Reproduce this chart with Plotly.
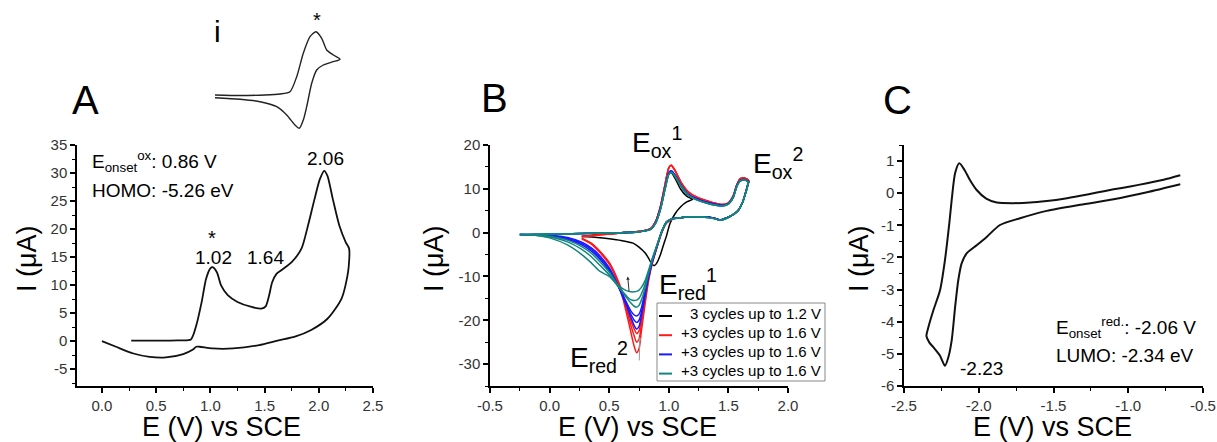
import plotly.graph_objects as go

W, H = 1217, 442
FONT = "Arial, 'Liberation Sans', sans-serif"

# ---------------- Panel A: oxidation CV ----------------
A_E = [0.27, 0.5, 0.7, 0.82, 0.87, 0.92, 0.96, 1.0, 1.02, 1.06, 1.10, 1.16, 1.25, 1.38, 1.47,
       1.51, 1.54, 1.57, 1.61, 1.65, 1.75, 1.84, 1.90, 1.96, 2.01, 2.05, 2.08, 2.13, 2.19, 2.25,
       2.28, 2.27, 2.21, 2.08, 1.93, 1.78, 1.62, 1.45, 1.21, 1.02, 0.90, 0.87, 0.84, 0.75, 0.59,
       0.44, 0.29, 0.13, 0.0]
A_I = [0.1, 0.1, 0.15, 0.3, 2.8, 7.0, 11.1, 13.0, 13.2, 12.3, 9.9, 8.2, 7.0, 6.1, 5.8,
       6.2, 8.0, 10.5, 12.0, 12.6, 14.1, 16.5, 20.6, 25.3, 28.9, 30.4, 29.5, 25.3, 20.6, 17.6,
       16.5, 12.3, 7.6, 4.0, 2.0, 0.8, 0.1, -0.7, -1.3, -1.3, -1.0, -1.0, -1.5, -2.3, -2.9,
       -2.8, -2.2, -1.0, 0.0]

# inset (i): first redox wave only (arbitrary units)
INSET_X = [0.0, 0.25, 0.5, 0.65, 0.75, 0.817, 0.883, 0.95, 1.01, 1.067, 1.117, 1.183, 1.25,
           1.183, 1.083, 1.017, 0.967, 0.917, 0.883, 0.843, 0.80, 0.717, 0.617, 0.45, 0.25, 0.0]
INSET_Y = [0.5, 0.45, 0.5, 0.6, 0.83, 2.33, 4.67, 6.33, 6.83, 6.17, 5.0, 4.5, 4.07,
           3.83, 3.5, 3.0, 1.67, -0.67, -2.0, -2.83, -2.5, -1.5, -0.67, -0.17, 0.07, 0.23]

# ---------------- Panel B: multi-cycle CVs ----------------
B_E_FWD = [-0.25, -0.1, 0.1, 0.27, 0.45, 0.6, 0.72, 0.8, 0.85, 0.89, 0.93, 0.97, 1.0, 1.02,
           1.05, 1.1, 1.16, 1.25, 1.35, 1.45, 1.5, 1.54, 1.57, 1.6, 1.64, 1.67]
B_E_REV = [1.67, 1.65, 1.62, 1.58, 1.52, 1.46, 1.43, 1.38, 1.3, 1.2, 1.1, 1.03, 0.98, 0.94,
           0.9, 0.86, 0.83, 0.8, 0.77, 0.75, 0.73, 0.71, 0.68, 0.65, 0.61, 0.56, 0.5, 0.42,
           0.35, 0.27, 0.15, 0.0, -0.12, -0.25]

# red cycles start at 0.27 V
B_I_FWD_RED = [-0.9, -0.4, -0.1, 0.2, 0.5, 1.0, 2.6, 6.0, 11.2, 14.8, 15.4, 14.3, 11.6, 9.4,
               7.9, 7.0, 6.4, 6.8, 8.4, 10.9, 12.3, 12.4, 11.9]
B_I_FWD_BLUE = [-0.5, -0.4, -0.3, -0.2, -0.1, 0.0, 0.1, 0.4, 0.8, 2.3, 5.5, 10.4, 13.6, 14.1,
                13.2, 10.9, 8.8, 7.5, 6.7, 6.2, 6.6, 8.1, 10.6, 11.9, 12.1, 11.6]
B_I_FWD_TEAL = [-0.5, -0.4, -0.3, -0.2, -0.1, 0.0, 0.1, 0.4, 0.8, 2.2, 5.3, 10.1, 13.3, 13.8,
                13.0, 10.7, 8.6, 7.3, 6.5, 6.1, 6.5, 8.0, 10.5, 11.8, 12.0, 11.5]

B_I_REV_RED = [
    [11.8, 9.8, 7.1, 5.0, 3.8, 3.1, 2.9, 3.3, 3.6, 3.6, 3.4, 3.1, 2.2, 0.0, -3.4, -7.2, -11.0,
     -16.5, -22.5, -26.5, -27.4, -26.0, -22.5, -19.0, -14.5, -10.5, -7.2, -4.5, -2.6, -1.4],
    [11.7, 9.7, 7.0, 5.0, 3.8, 3.1, 2.9, 3.3, 3.6, 3.6, 3.4, 3.1, 2.2, 0.0, -3.4, -7.0, -10.6,
     -15.5, -21.0, -24.3, -25.0, -23.6, -21.0, -18.0, -14.0, -10.2, -7.0, -4.3, -2.5, -1.3],
    [11.6, 9.6, 7.0, 5.0, 3.8, 3.1, 2.9, 3.3, 3.6, 3.6, 3.4, 3.1, 2.2, 0.0, -3.3, -6.8, -10.2,
     -14.8, -19.8, -22.4, -23.0, -22.0, -20.0, -17.2, -13.5, -10.0, -6.8, -4.2, -2.4, -1.3],
]
B_I_REV_BLUE = [
    [11.7, 9.7, 7.0, 5.0, 3.8, 3.1, 2.9, 3.3, 3.6, 3.6, 3.4, 3.2, 2.4, 0.2, -3.2, -6.8, -10.2,
     -14.5, -19.0, -21.4, -22.0, -21.2, -19.2, -17.0, -14.5, -11.2, -8.0, -5.2, -3.5, -2.2,
     -1.1, -0.6, -0.45, -0.4],
    [11.6, 9.6, 7.0, 5.0, 3.8, 3.1, 2.9, 3.3, 3.6, 3.6, 3.4, 3.2, 2.4, 0.2, -3.2, -6.7, -10.0,
     -14.0, -18.2, -20.0, -20.5, -20.0, -18.5, -16.5, -14.2, -11.3, -8.3, -5.6, -3.8, -2.5,
     -1.3, -0.7, -0.5, -0.4],
    [11.6, 9.6, 7.0, 5.0, 3.8, 3.1, 2.9, 3.3, 3.6, 3.6, 3.4, 3.2, 2.4, 0.2, -3.1, -6.5, -9.7,
     -13.4, -17.2, -18.6, -19.0, -18.8, -17.8, -16.2, -14.0, -11.5, -8.7, -6.0, -4.2, -2.8,
     -1.5, -0.8, -0.5, -0.4],
]
B_I_REV_TEAL = [
    [11.6, 9.6, 7.0, 5.0, 3.8, 3.0, 2.8, 3.2, 3.5, 3.6, 3.4, 3.2, 2.4, 0.2, -3.0, -6.3, -9.3,
     -12.8, -15.4, -16.6, -17.0, -16.8, -16.0, -15.0, -13.5, -11.5, -9.0, -6.6, -4.7, -3.2,
     -1.7, -0.8, -0.5, -0.4],
    [11.5, 9.5, 7.0, 5.0, 3.8, 3.0, 2.8, 3.2, 3.5, 3.6, 3.4, 3.2, 2.4, 0.2, -3.0, -6.2, -9.0,
     -11.9, -14.0, -15.0, -15.4, -15.5, -15.3, -14.6, -13.4, -11.8, -9.6, -7.4, -5.5, -3.8,
     -2.1, -1.0, -0.6, -0.4],
    [11.5, 9.5, 7.0, 5.0, 3.8, 3.0, 2.8, 3.2, 3.5, 3.6, 3.4, 3.2, 2.4, 0.2, -2.9, -6.0, -8.6,
     -11.0, -12.5, -13.1, -13.4, -13.5, -13.5, -13.3, -12.7, -11.6, -10.0, -8.8, -6.9, -5.0,
     -2.8, -1.2, -0.6, -0.4],
]

# black: 3 cycles up to 1.2 V (overlapping, drawn once)
B_E_BLK = [0.27, 0.45, 0.6, 0.72, 0.8, 0.85, 0.89, 0.93, 0.97, 1.0, 1.02, 1.05, 1.1, 1.15, 1.2,
           1.15, 1.1, 1.05, 1.01, 0.98, 0.96, 0.93, 0.9, 0.88, 0.86, 0.83, 0.8, 0.75, 0.7, 0.6,
           0.5, 0.4, 0.27]
B_I_BLK = [-0.8, -0.3, 0.0, 0.2, 0.5, 1.0, 2.6, 5.8, 10.8, 13.5, 13.7, 12.5, 9.9, 8.3, 7.6,
           7.0, 5.9, 4.2, 2.1, -0.8, -2.4, -5.0, -6.9, -7.5, -7.3, -5.8, -4.6, -3.3, -2.4, -1.8,
           -1.4, -1.1, -0.9]

LEGEND_LABELS = ["3 cycles up to 1.2 V", "+3 cycles up to 1.6 V",
                 "+3 cycles up to 1.6 V", "+3 cycles up to 1.6 V"]
B_COLORS = ["#000000", "#ff1a1a", "#1a1aff", "#11867e"]

# ---------------- Panel C: reduction CV ----------------
C_E = [-0.652, -0.763, -0.875, -0.987, -1.098, -1.21, -1.32, -1.43, -1.545, -1.656, -1.77,
       -1.88, -1.95, -2.014, -2.06, -2.095, -2.13, -2.158, -2.181, -2.197, -2.226, -2.259,
       -2.304, -2.337, -2.350, -2.33, -2.304, -2.26, -2.226, -2.203, -2.181, -2.158, -2.137,
       -2.115, -2.081, -2.014, -1.947, -1.858, -1.724, -1.545, -1.32, -1.098, -0.875, -0.652]
C_I = [0.56, 0.42, 0.31, 0.21, 0.12, 0.02, -0.08, -0.17, -0.24, -0.29, -0.31,
       -0.29, -0.17, 0.10, 0.42, 0.72, 0.93, 0.63, -0.21, -0.94, -2.08, -3.02,
       -3.65, -4.17, -4.45, -4.65, -4.79, -5.05, -5.37, -5.1, -4.58, -3.54, -2.71,
       -2.19, -1.875, -1.62, -1.36, -0.99, -0.78, -0.55, -0.36, -0.19, 0.03, 0.28]

# tick labels
A_XT = [0.0, 0.5, 1.0, 1.5, 2.0, 2.5]
A_XL = ["0.0", "0.5", "1.0", "1.5", "2.0", "2.5"]
A_YT = [-5, 0, 5, 10, 15, 20, 25, 30, 35]
A_YL = ["-5", "0", "5", "10", "15", "20", "25", "30", "35"]
B_XT = [-0.5, 0.0, 0.5, 1.0, 1.5, 2.0]
B_XL = ["-0.5", "0.0", "0.5", "1.0", "1.5", "2.0"]
B_YT = [-30, -20, -10, 0, 10, 20]
B_YL = ["-30", "-20", "-10", "0", "10", "20"]
C_XT = [-2.5, -2.0, -1.5, -1.0, -0.5]
C_XL = ["-2.5", "-2.0", "-1.5", "-1.0", "-0.5"]
C_YT = [-6, -5, -4, -3, -2, -1, 0, 1]
C_YL = ["-6", "-5", "-4", "-3", "-2", "-1", "0", "1"]


def px(x):
    return x / W


def py(y):
    return 1 - y / H


fig = go.Figure()
line_kw = dict(shape="spline", smoothing=0.7)

fig.add_trace(go.Scatter(x=A_E, y=A_I, mode="lines", xaxis="x", yaxis="y",
                         line=dict(color="#111", width=1.8, **line_kw), showlegend=False))
fig.add_trace(go.Scatter(x=INSET_X, y=INSET_Y, mode="lines", xaxis="x4", yaxis="y4",
                         line=dict(color="#222", width=1.4, **line_kw), showlegend=False))

# panel B
fig.add_trace(go.Scatter(x=B_E_BLK, y=B_I_BLK, mode="lines", xaxis="x2", yaxis="y2",
                         line=dict(color=B_COLORS[0], width=1.5, **line_kw),
                         name=LEGEND_LABELS[0], showlegend=False))
red_E = B_E_FWD[3:] + B_E_REV[:30]
for rev in B_I_REV_RED:
    fig.add_trace(go.Scatter(x=red_E, y=B_I_FWD_RED + rev, mode="lines", xaxis="x2", yaxis="y2",
                             line=dict(color=B_COLORS[1], width=1.5, **line_kw),
                             name=LEGEND_LABELS[1], showlegend=False))
full_E = B_E_FWD + B_E_REV
for rev in B_I_REV_BLUE:
    fig.add_trace(go.Scatter(x=full_E, y=B_I_FWD_BLUE + rev, mode="lines", xaxis="x2", yaxis="y2",
                             line=dict(color=B_COLORS[2], width=1.5, **line_kw),
                             name=LEGEND_LABELS[2], showlegend=False))
for rev in B_I_REV_TEAL:
    fig.add_trace(go.Scatter(x=full_E, y=B_I_FWD_TEAL + rev, mode="lines", xaxis="x2", yaxis="y2",
                             line=dict(color=B_COLORS[3], width=1.5, **line_kw),
                             name=LEGEND_LABELS[3], showlegend=False))

# panel C
fig.add_trace(go.Scatter(x=C_E, y=C_I, mode="lines", xaxis="x3", yaxis="y3",
                         line=dict(color="#111", width=2.0, **line_kw), showlegend=False))

TOP, BOT = 145, 386
ydom = [py(BOT), py(TOP)]


def ax(domain, rng, tv, tl, minor_dtick, anchor):
    return dict(domain=domain, range=rng, tickmode="array", tickvals=tv, ticktext=tl,
                ticks="outside", ticklen=5, tickwidth=1.5, tickcolor="black",
                showline=True, linecolor="black", linewidth=1.5, showgrid=False,
                zeroline=False, anchor=anchor, automargin=False,
                tickfont=dict(family=FONT, size=15, color="#333"),
                minor=dict(ticks="outside", ticklen=3, tickwidth=1.2, tickcolor="black",
                           dtick=minor_dtick, tick0=0, showgrid=False))


hidden = dict(visible=False, showgrid=False, zeroline=False)

fig.update_layout(
    width=W, height=H, autosize=False, showlegend=False,
    margin=dict(l=0, r=0, t=0, b=0, autoexpand=False),
    paper_bgcolor="white", plot_bgcolor="rgba(0,0,0,0)",
    font=dict(family=FONT, color="black"),
    xaxis=ax([px(77), px(373)], [-0.23, 2.5], A_XT, A_XL, 0.25, "y"),
    yaxis=ax(ydom, [-8, 35], A_YT, A_YL, 2.5, "x"),
    xaxis2=ax([px(490), px(788)], [-0.5, 2.0], B_XT, B_XL, 0.25, "y2"),
    yaxis2=ax(ydom, [-35, 20], B_YT, B_YL, 5, "x2"),
    xaxis3=ax([px(904), px(1203)], [-2.5, -0.5], C_XT, C_XL, 0.25, "y3"),
    yaxis3=ax(ydom, [-6, 1.5], C_YT, C_YL, 0.5, "x3"),
    xaxis4=dict(domain=[px(215), px(342)], range=[0, 1.27], anchor="y4", **hidden),
    yaxis4=dict(domain=[py(135), py(18)], range=[-3.5, 8.2], anchor="x4", **hidden),
)

ann = []
shapes = []


def text(x, y, t, size=19, xanchor="center", yanchor="middle", angle=0):
    ann.append(dict(x=px(x), y=py(y), xref="paper", yref="paper", text=t, showarrow=False,
                    xanchor=xanchor, yanchor=yanchor, textangle=angle,
                    font=dict(family=FONT, size=size, color="black")))


# panel letters
text(85, 100, "A", size=40)
text(494, 98, "B", size=40)
text(897, 100, "C", size=40)
text(217, 32, "i", size=30)
text(317, 20, "*", size=20)

# axis titles
for xc in (221, 637, 1052):
    text(xc, 410, "E (V) vs SCE", size=27, yanchor="top")
for xc in (27, 434, 859):
    text(xc, 259, "I (μA)", size=27, angle=-90)

# panel A labels
text(90, 161, "E<sub>onset</sub><sup>ox</sup>: 0.86 V", xanchor="left")
text(90, 190, "HOMO: -5.26 eV", xanchor="left")
text(212, 238, "*", size=20)
text(213, 257, "1.02")
text(265, 257, "1.64")
text(325, 158, "2.06")

# panel B labels
text(657, 142, "E<sub>ox</sub><sup>1</sup>", size=28)
text(778, 163, "E<sub>ox</sub><sup>2</sup>", size=28)
text(688, 284, "E<sub>red</sub><sup>1</sup>", size=28)
text(599, 357, "E<sub>red</sub><sup>2</sup>", size=28)

# panel C labels
text(1054, 327, "E<sub>onset</sub><sup>red.</sup>: -2.06 V", xanchor="left")
text(1054, 355, "LUMO: -2.34 eV", xanchor="left")
text(958, 368, "-2.23", xanchor="left")

# manual legend for panel B (box, line samples, right-aligned labels)
shapes.append(dict(type="rect", xref="paper", yref="paper", x0=px(657), x1=px(825),
                   y0=py(381), y1=py(303), line=dict(color="#888", width=1),
                   fillcolor="white", layer="above"))
for k, (lab, col) in enumerate(zip(LEGEND_LABELS, B_COLORS)):
    yc = 313 + 19.2 * k
    shapes.append(dict(type="line", xref="paper", yref="paper", x0=px(659), x1=px(672),
                       y0=py(yc + 3), y1=py(yc + 3), line=dict(color=col, width=2),
                       layer="above"))
    text(823, yc, lab, size=15, xanchor="right")

# small trend arrows in panel B
ann.append(dict(x=0.655, y=-10.0, ax=0.668, ay=-13.8, xref="x2", yref="y2", axref="x2",
                ayref="y2", showarrow=True, arrowhead=2, arrowsize=0.7, arrowwidth=1,
                arrowcolor="#333", text=""))
ann.append(dict(x=0.757, y=-23.8, ax=0.752, ay=-29.5, xref="x2", yref="y2", axref="x2",
                ayref="y2", showarrow=True, arrowhead=2, arrowsize=0.7, arrowwidth=1,
                arrowcolor="#999", text=""))

fig.update_layout(annotations=ann, shapes=shapes)

fig.write_html("out.html", config={"displayModeBar": False},
               post_script="document.body.style.margin='0';")
